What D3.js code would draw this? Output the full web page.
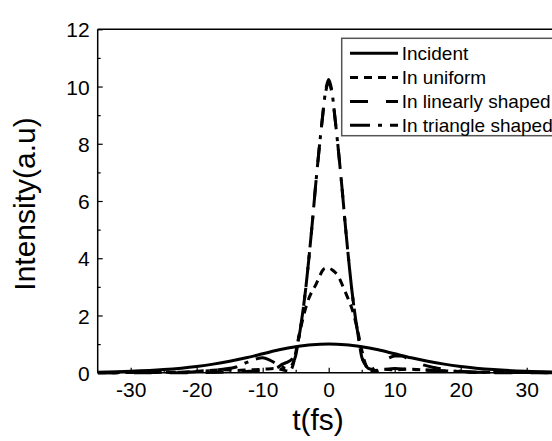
<!DOCTYPE html>
<html><head><meta charset="utf-8">
<script src="https://cdn.jsdelivr.net/npm/d3@7"></script>
<style>html,body{margin:0;padding:0;background:#fff;overflow:hidden}</style>
</head><body>
<svg id="c" width="552" height="441"></svg>
<script>
// ---- data ----
const incidentT = [-35,-30,-25,-20,-17.5,-15,-12.5,-10,-7.5,-5,-2.5,0,2.5,5,7.5,10,12.5,15,17.5,20,25,30,35];
const incidentI = [0.02,0.05,0.11,0.22,0.3,0.4,0.52,0.66,0.8,0.91,0.98,1.0,0.98,0.91,0.8,0.66,0.52,0.4,0.3,0.22,0.11,0.05,0.02];

const uniformT = [-35,-22,-20,-18,-16,-14,-12,-10,-8,-7,-6,-5.5,-5,-4.5,-4,-3.5,-3,-2.5,-2,-1.5,-1,-0.5,0,0.5,1,1.5,2,2.5,3,3.5,4,4.5,5,5.5,6,7,8,10,12,14,16,18,20,22,35];
const uniformI = [0,0.02,0.05,0.08,0.1,0.08,0.1,0.12,0.15,0.1,0.05,0.2,0.7,1.3,1.8,2.25,2.6,2.85,3.05,3.3,3.55,3.65,3.65,3.6,3.5,3.35,3.1,2.83,2.55,2.25,1.85,1.35,0.8,0.35,0.1,0.05,0.12,0.1,0.12,0.1,0.08,0.06,0.04,0.02,0];

const linearT = [-35,-20,-15,-12,-10,-8,-7,-6,-5.5,-5,-4.5,-4,-3.5,-3,-2.5,-2,-1.5,-1,-0.5,0,0.5,1,1.5,2,2.5,3,3.5,4,4.5,5,5.5,6,6.5,7,8,9,10,11,12,13,14,16,18,20,22,25,35];
const linearI = [0,0,0.03,0.05,0.08,0.15,0.3,0.4,0.5,0.8,1.25,2.0,2.9,4.0,5.2,6.5,7.7,8.8,9.75,10.15,9.75,8.8,7.7,6.5,5.2,4.0,2.9,2.0,1.25,0.6,0.3,0.15,0.12,0.18,0.35,0.5,0.58,0.58,0.5,0.4,0.3,0.18,0.1,0.05,0.02,0,0];

const triangleT = [-35,-22,-20,-18,-16,-14,-12.5,-11,-10,-9,-8,-7,-6.5,-6,-5.5,-5,-4.5,-4,-3.5,-3,-2.5,-2,-1.5,-1,-0.5,0,0.5,1,1.5,2,2.5,3,3.5,4,4.5,5,5.5,6,7,8,10,12,14,16,18,20,22,35];
const triangleI = [0,0.02,0.04,0.07,0.12,0.2,0.35,0.48,0.52,0.45,0.32,0.2,0.15,0.15,0.3,0.6,1.25,2.0,2.9,4.0,5.2,6.5,7.7,8.8,9.8,10.25,9.8,8.8,7.7,6.5,5.2,4.0,2.9,2.0,1.25,0.55,0.3,0.15,0.08,0.1,0.15,0.12,0.1,0.08,0.06,0.04,0.02,0];

const xTicks = [-30,-20,-10,0,10,20,30];
const xMinor = [-25,-15,-5,5,15,25];
const yTicks = [0,2,4,6,8,10,12];
const yMinor = [1,3,5,7,9,11];
const legendLabels = ["Incident","In uniform","In linearly shaped","In triangle shaped"];
const xTitle = "t(fs)", yTitle = "Intensity(a.u)";

// ---- drawing ----
const svg = d3.select("#c");
svg.append("rect").attr("width",552).attr("height",441).attr("fill","#fff");
const L = 97.7, R = 559.7, T = 29.3, B = 372.7;
const x = d3.scaleLinear().domain([-35,35]).range([L,R]);
const y = d3.scaleLinear().domain([0,12]).range([B,T]);
const font = "'Liberation Sans', Arial, Helvetica, sans-serif";
const fmt = d => String(d);

svg.append("clipPath").attr("id","clip").append("rect")
  .attr("x",L).attr("y",T-5).attr("width",R-L).attr("height",B-T+8);

const styles = [
  {t:incidentT, v:incidentI, dash:null},
  {t:uniformT, v:uniformI, dash:"8,6"},
  {t:linearT, v:linearI, dash:"18,18"},
  {t:triangleT, v:triangleI, dash:"20,8,4,8"}
];
const line = d3.line().x(d=>x(d[0])).y(d=>y(d[1])).curve(d3.curveMonotoneX);
const g = svg.append("g").attr("clip-path","url(#clip)");
styles.slice().reverse().forEach(s=>{
  g.append("path").datum(s.t.map((t,i)=>[t,s.v[i]]))
   .attr("d",line).attr("fill","none").attr("stroke","#000")
   .attr("stroke-width",3).attr("stroke-dasharray",s.dash);
});

// frame
const frame = svg.append("g").attr("stroke","#000").attr("stroke-width",1.5).attr("fill","none");
frame.append("line").attr("x1",L).attr("x2",R).attr("y1",B).attr("y2",B);
frame.append("line").attr("x1",L).attr("x2",R).attr("y1",T).attr("y2",T);
frame.append("line").attr("x1",L).attr("x2",L).attr("y1",T).attr("y2",B);

// ticks (inward) using d3 axes
const xAxis = svg.append("g").attr("transform",`translate(0,${B})`)
  .call(d3.axisBottom(x).tickValues(xTicks).tickSize(-5).tickFormat(fmt));
const xAxisMinor = svg.append("g").attr("transform",`translate(0,${B})`)
  .call(d3.axisBottom(x).tickValues(xMinor).tickSize(-3).tickFormat(""));
const yAxis = svg.append("g").attr("transform",`translate(${L},0)`)
  .call(d3.axisLeft(y).tickValues(yTicks).tickSize(-5).tickPadding(8).tickFormat(fmt));
const yAxisMinor = svg.append("g").attr("transform",`translate(${L},0)`)
  .call(d3.axisLeft(y).tickValues(yMinor).tickSize(-3).tickFormat(""));
[xAxis,xAxisMinor,yAxis,yAxisMinor].forEach(a=>{
  a.select(".domain").remove();
  a.selectAll(".tick line").attr("stroke","#000").attr("stroke-width",1.2);
  a.selectAll("text").attr("font-family",font).attr("font-size",21).attr("fill","#000");
});
xAxis.selectAll("text").attr("dy",null).attr("y",24);
yAxis.selectAll("text").attr("dy","0.36em");

// titles
svg.append("text").attr("x",318).attr("y",430).attr("text-anchor","middle")
  .attr("font-family",font).attr("font-size",30).text(xTitle);
svg.append("text").attr("transform","translate(35,204) rotate(-90)").attr("text-anchor","middle")
  .attr("font-family",font).attr("font-size",30).text(yTitle);

// legend
const lg = svg.append("g");
lg.append("rect").attr("x",341.7).attr("y",38.3).attr("width",260).attr("height",97.4)
  .attr("fill","#fff").attr("stroke","#555").attr("stroke-width",1.5);
const rowY = [53.3,77.5,101.5,125.3];
legendLabels.forEach((lab,i)=>{
  lg.append("line").attr("x1",350).attr("x2",398).attr("y1",rowY[i]).attr("y2",rowY[i])
    .attr("stroke","#000").attr("stroke-width",3).attr("stroke-dasharray",styles[i].dash);
  lg.append("text").attr("x",401.7).attr("y",rowY[i]).attr("dy","0.35em")
    .attr("font-family",font).attr("font-size",19).text(lab);
});
</script>
</body></html>
